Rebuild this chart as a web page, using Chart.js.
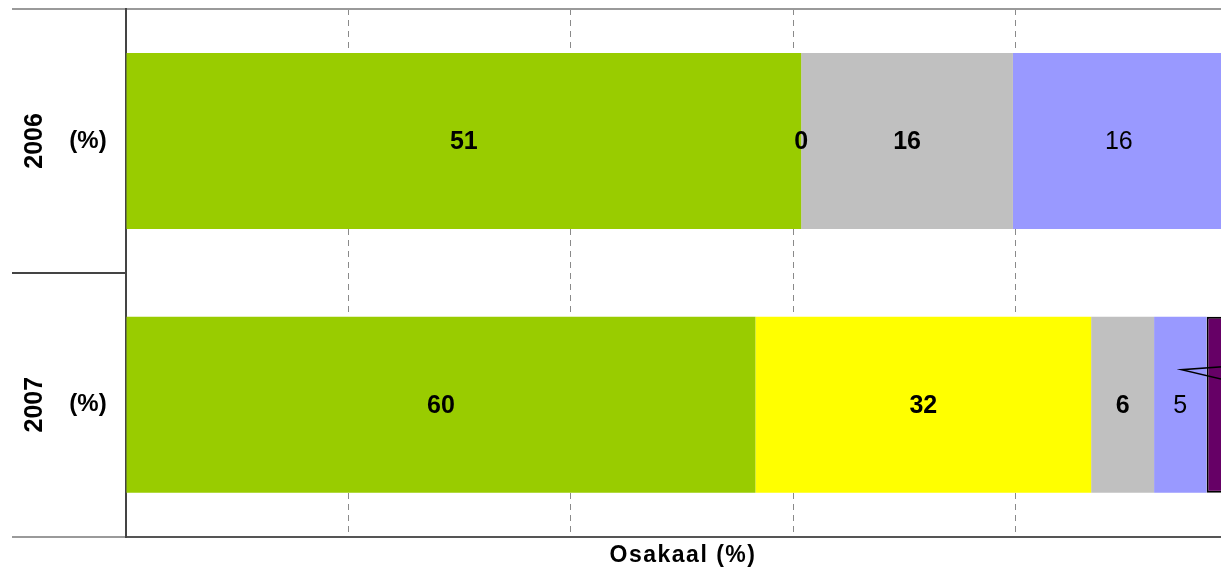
<!DOCTYPE html>
<html>
<head>
<meta charset="utf-8">
<script src="https://cdn.jsdelivr.net/npm/chart.js@4"></script>
<style>
    html, body { margin: 0; padding: 0; overflow: hidden; background: #fff; }
    #wrap { width: 1240px; height: 573px; }
</style>
</head>
<body>
<div id="wrap"><canvas id="shareChart"></canvas></div>
<script>
// counts per year, bars are drawn as share of the year's total
const years = ['2006', '2007'];
const greenVals = [51, 60];
const yellowVals = [0, 32];
const grayVals = [16, 6];
const blueVals = [16, 5];
const purpleVals = [1, 3];
const showCallout = [false, true];
const xTicks = [0, 20, 40, 60, 80, 100];
const xTitle = 'Osakaal (%)';

const series = [
    { name: 'A', vals: greenVals, color: '#99CC00', bold: true },
    { name: 'B', vals: yellowVals, color: '#FFFF00', bold: true },
    { name: 'C', vals: grayVals, color: '#C0C0C0', bold: true },
    { name: 'D', vals: blueVals, color: '#9999FF', bold: false },
    { name: 'E', vals: purpleVals, color: '#660066', bold: true, border: true, outside: true }
];

const totals = years.map((y, j) => series.reduce((s, d) => s + d.vals[j], 0));

const FONT = "'Liberation Sans Narrow', 'Liberation Sans', Arial, sans-serif";
const FONT_W = "'Liberation Sans', Arial, sans-serif";

const labelPlugin = {
    id: 'labelPlugin',
    afterDatasetsDraw(chart) {
        const ctx = chart.ctx;
        const area = chart.chartArea;
        const yScale = chart.scales.y;
        const xScale = chart.scales.x;
        ctx.save();
        ctx.fillStyle = '#000';
        ctx.textAlign = 'center';
        ctx.textBaseline = 'middle';

        // values on the bars
        series.forEach((s, i) => {
            const meta = chart.getDatasetMeta(i);
            meta.data.forEach((bar, j) => {
                if (s.outside) {
                    if (showCallout[j]) {
                        const tipX = bar.base - 25;
                        const tipY = bar.y - 35;
                        ctx.strokeStyle = '#000';
                        ctx.lineWidth = 1.5;
                        ctx.beginPath();
                        ctx.moveTo(bar.base + 60, tipY - 6);
                        ctx.lineTo(tipX, tipY);
                        ctx.lineTo(bar.base + 60, tipY + 20);
                        ctx.stroke();
                    }
                    return;
                }
                ctx.font = (s.bold ? 'bold ' : '') + '25px ' + FONT;
                const cx = (bar.x + bar.base) / 2;
                ctx.fillText(String(s.vals[j]), cx, bar.y + 1);
            });
        });

        // category labels on the left
        years.forEach((y, j) => {
            const py = yScale.getPixelForValue(j);
            ctx.font = 'bold 25px ' + FONT;
            ctx.save();
            ctx.translate(area.left - 91, py);
            ctx.rotate(-Math.PI / 2);
            ctx.fillText(y, 0, 0);
            ctx.restore();
            ctx.font = 'bold 24px ' + FONT;
            ctx.fillText('(%)', area.left - 38, py);
        });

        // axis title, slightly spaced letters
        ctx.font = 'bold 23px ' + FONT_W;
        if ('letterSpacing' in ctx) ctx.letterSpacing = '1.5px';
        ctx.fillText(xTitle, (area.left + area.right) / 2 + 1, xScale.top + 19);
        ctx.restore();
    }
};

document.addEventListener('DOMContentLoaded', () => {
    const ctx = document.getElementById('shareChart');
    new Chart(ctx, {
        type: 'bar',
        data: {
            labels: years,
            datasets: series.map(s => ({
                label: s.name,
                data: s.vals.map((v, j) => v / totals[j] * 100),
                backgroundColor: s.color,
                borderColor: '#000',
                borderWidth: s.border ? 2 : 0,
                borderSkipped: false,
                categoryPercentage: 1,
                barPercentage: 0.667
            }))
        },
        options: {
            indexAxis: 'y',
            responsive: true,
            maintainAspectRatio: false,
            animation: false,
            layout: { padding: { left: 12, top: 9, right: 2, bottom: 0 } },
            plugins: {
                legend: { display: false },
                tooltip: { enabled: false }
            },
            scales: {
                x: {
                    stacked: true,
                    min: 0,
                    max: 100,
                    afterBuildTicks: (scale) => {
                        scale.ticks = xTicks.map(v => ({ value: v }));
                    },
                    ticks: { display: false },
                    grid: {
                        drawTicks: false,
                        color: (c) => c.index === 0 ? 'transparent' : '#8a8a8a',
                        lineWidth: 1
                    },
                    border: { display: true, color: '#555', width: 2, dash: [6, 5] },
                    title: {
                        display: true,
                        text: xTitle,
                        color: 'transparent',
                        font: { family: FONT_W, size: 22, weight: 'bold' },
                        padding: { top: 6, bottom: 4 }
                    }
                },
                y: {
                    stacked: true,
                    ticks: { display: false },
                    afterFit: (scale) => { scale.width = 114; },
                    grid: {
                        offset: true,
                        drawTicks: true,
                        tickLength: 114,
                        color: (c) => c.index === 1 ? 'transparent' : '#9a9a9a',
                        tickColor: (c) => c.index === 1 ? '#444' : '#9a9a9a',
                        lineWidth: 2,
                        tickWidth: 2
                    },
                    border: { display: true, color: '#444', width: 2 }
                }
            }
        },
        plugins: [labelPlugin]
    });
});
</script>
</body>
</html>
